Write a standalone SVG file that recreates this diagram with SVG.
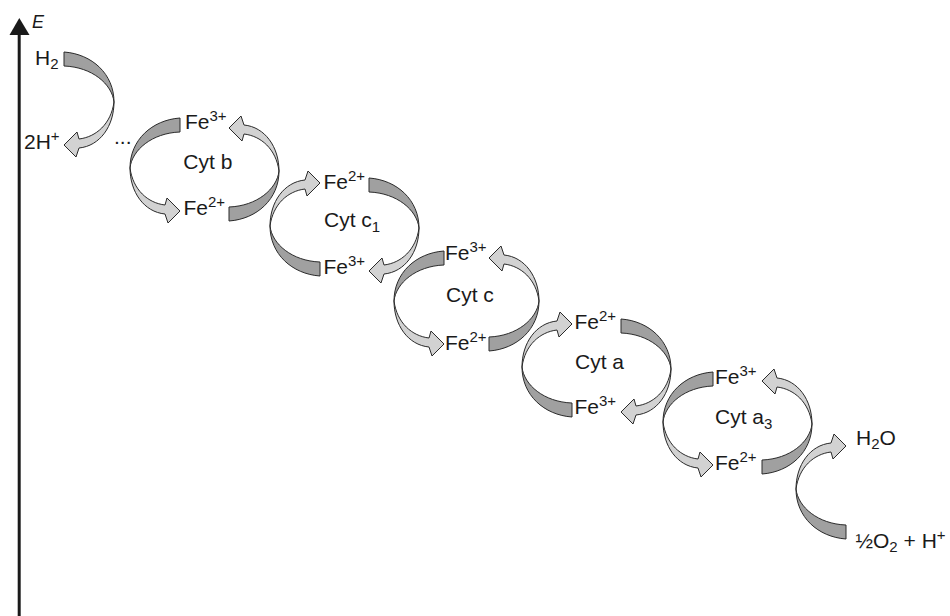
<svg xmlns="http://www.w3.org/2000/svg" xmlns:xlink="http://www.w3.org/1999/xlink" width="950" height="616" viewBox="0 0 950 616">
<style>
text{font-family:"Liberation Sans",Arial,sans-serif;font-size:21px;fill:#1a1a1a}
.dk{fill:#a0a0a0;stroke:#2a2a2a;stroke-width:1;stroke-linejoin:round}
.lt{fill:#d2d2d2;stroke:#2a2a2a;stroke-width:1;stroke-linejoin:round}
.s{font-size:15px}
</style>
<defs>
<g id="arc">
<path class="dk" d="M50,-50 C22,-48 0,-28 0,0 C2,-18 22,-35 50,-36 Z"/>
<path class="lt" d="M0,0 C0,24 14,44 35,46 L38,55 L50,43 L37,30 L35,37 C18,35 3,22 0,0 Z"/>
</g>
</defs>
<rect width="950" height="616" fill="#ffffff"/>
<g id="axis">
<line x1="19.2" y1="32" x2="19.2" y2="616" stroke="#1a1a1a" stroke-width="3"/>
<polygon points="19.3,18 9.5,35 29.5,35" fill="#1a1a1a"/>
<text x="32" y="28" font-style="italic" style="font-size:18px">E</text>
</g>
<g id="connectors">
<use xlink:href="#arc" transform="translate(114,102) scale(-1,1)"/>
<use xlink:href="#arc" transform="translate(130,168)"/>
<use xlink:href="#arc" transform="translate(279,171) scale(-1,-1)"/>
<use xlink:href="#arc" transform="translate(270,226) scale(1,-1)"/>
<use xlink:href="#arc" transform="translate(419,228) scale(-1,1)"/>
<use xlink:href="#arc" transform="translate(394,301)"/>
<use xlink:href="#arc" transform="translate(539,301) scale(-1,-1)"/>
<use xlink:href="#arc" transform="translate(522,367) scale(1,-1)"/>
<use xlink:href="#arc" transform="translate(671,369) scale(-1,1)"/>
<use xlink:href="#arc" transform="translate(663,422)"/>
<use xlink:href="#arc" transform="translate(812,424) scale(-1,-1)"/>
<use xlink:href="#arc" transform="translate(796,489) scale(1,-1)"/>
</g>
<g id="h2">
<text x="35" y="65">H<tspan class="s" dy="4">2</tspan></text>
</g>
<g id="h-plus">
<text x="24" y="149">2H<tspan class="s" dy="-8">+</tspan></text>
</g>
<g id="dots">
<text x="114" y="144">...</text>
</g>
<g id="cyt-b">
<text x="185" y="128.5">Fe<tspan class="s" dy="-8">3+</tspan></text>
<text x="183.3" y="168.5">Cyt b</text>
<text x="183.5" y="215">Fe<tspan class="s" dy="-8">2+</tspan></text>
</g>
<g id="cyt-c1">
<text x="323.5" y="188.5">Fe<tspan class="s" dy="-8">2+</tspan></text>
<text x="324" y="226.5">Cyt c<tspan class="s" dy="5">1</tspan></text>
<text x="323.5" y="273.5">Fe<tspan class="s" dy="-8">3+</tspan></text>
</g>
<g id="cyt-c">
<text x="445" y="260">Fe<tspan class="s" dy="-8">3+</tspan></text>
<text x="446" y="301.5">Cyt c</text>
<text x="445" y="350">Fe<tspan class="s" dy="-8">2+</tspan></text>
</g>
<g id="cyt-a">
<text x="574.5" y="329">Fe<tspan class="s" dy="-8">2+</tspan></text>
<text x="575" y="368.5">Cyt a</text>
<text x="574.5" y="413.5">Fe<tspan class="s" dy="-8">3+</tspan></text>
</g>
<g id="cyt-a3">
<text x="715" y="383.5">Fe<tspan class="s" dy="-8">3+</tspan></text>
<text x="715" y="424">Cyt a<tspan class="s" dy="5">3</tspan></text>
<text x="715" y="470">Fe<tspan class="s" dy="-8">2+</tspan></text>
</g>
<g id="h2o">
<text x="856" y="445">H<tspan class="s" dy="4">2</tspan><tspan dy="-4">O</tspan></text>
</g>
<g id="o2">
<text x="855.5" y="548">½O<tspan class="s" dy="4">2</tspan><tspan dy="-4"> + H</tspan><tspan class="s" dy="-8">+</tspan></text>
</g>
</svg>
